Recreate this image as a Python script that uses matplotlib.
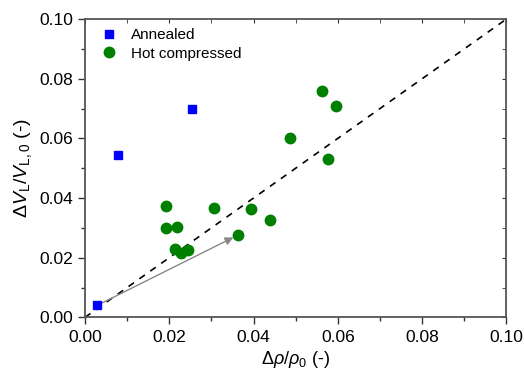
import matplotlib
matplotlib.use("Agg")
import matplotlib.pyplot as plt
from matplotlib.ticker import MultipleLocator

plt.rcParams['font.family'] = ['Liberation Sans', 'DejaVu Sans']
plt.rcParams['mathtext.fontset'] = 'custom'
plt.rcParams['mathtext.rm'] = 'Liberation Sans'
plt.rcParams['mathtext.it'] = 'Liberation Sans:italic'

annealed_x = [0.0028, 0.0078, 0.0253]
annealed_y = [0.0041, 0.0543, 0.0697]

hot_x = [0.0191, 0.0191, 0.0218, 0.0305, 0.0213, 0.0228, 0.0245, 0.0362,
         0.0395, 0.0440, 0.0487, 0.0562, 0.0596, 0.0576]
hot_y = [0.0374, 0.0298, 0.0304, 0.0365, 0.0229, 0.0215, 0.0226, 0.0275,
         0.0363, 0.0325, 0.0600, 0.0758, 0.0708, 0.0532]

diag = [0.0, 0.1]
arrow_start = (0.0036, 0.0045)
arrow_end = (0.0352, 0.0268)

fig = plt.figure(figsize=(5.24, 3.69), dpi=100)
ax = fig.add_axes([0.1622, 0.140, 0.8044, 0.8085])

ax.plot(diag, diag, linestyle=(0, (4, 4)), color='black', lw=1.2, zorder=1)
ax.annotate('', xy=arrow_end, xytext=arrow_start,
            arrowprops=dict(arrowstyle='-|>', color='#888888', lw=1.0,
                            mutation_scale=12, shrinkA=0, shrinkB=0), zorder=2)

ax.plot(annealed_x, annealed_y, 's', color='#0000FF', markersize=6,
        linestyle='none', label='Annealed', zorder=3)
ax.plot(hot_x, hot_y, 'o', color='#008000', markersize=7.5,
        linestyle='none', label='Hot compressed', zorder=3)

ax.set_xlim(0, 0.1)
ax.set_ylim(0, 0.1)
ax.xaxis.set_major_locator(MultipleLocator(0.02))
ax.xaxis.set_minor_locator(MultipleLocator(0.01))
ax.yaxis.set_major_locator(MultipleLocator(0.02))
ax.yaxis.set_minor_locator(MultipleLocator(0.01))
ax.xaxis.set_major_formatter(matplotlib.ticker.FormatStrFormatter('%.2f'))
ax.yaxis.set_major_formatter(matplotlib.ticker.FormatStrFormatter('%.2f'))

for s in ax.spines.values():
    s.set_color('#555555')
    s.set_linewidth(1.3)

ax.tick_params(which='both', direction='out', colors='#333333', labelcolor='black',
               labelsize=12.5, top=False, right=False)
ax.tick_params(which='major', length=5, width=1)
ax.tick_params(which='minor', length=3, width=1)
ax.tick_params(axis='x', pad=4)

ax2 = ax.secondary_xaxis('top')
ax2.xaxis.set_major_locator(MultipleLocator(0.02))
ax2.xaxis.set_minor_locator(MultipleLocator(0.01))
ax2.tick_params(which='both', direction='in', length=3, colors='#333333', labeltop=False)
ax2.spines['top'].set_visible(False)
ay2 = ax.secondary_yaxis('right')
ay2.yaxis.set_major_locator(MultipleLocator(0.02))
ay2.yaxis.set_minor_locator(MultipleLocator(0.01))
ay2.tick_params(which='both', direction='in', length=3, colors='#333333', labelright=False)
ay2.spines['right'].set_visible(False)

ax.set_xlabel(r'$\Delta\mathit{\rho}/\mathit{\rho}_0$ (-)', fontsize=13, labelpad=3)
ax.set_ylabel(r'$\Delta\mathit{V}_{\rm L}/\mathit{V}_{\rm L,0}$ (-)', fontsize=14, labelpad=4)

ax.legend(loc='upper left', frameon=False, fontsize=11, handletextpad=0.4,
          borderaxespad=0.3, labelspacing=0.3, borderpad=0.3)

fig.savefig('out.png', dpi=100)
